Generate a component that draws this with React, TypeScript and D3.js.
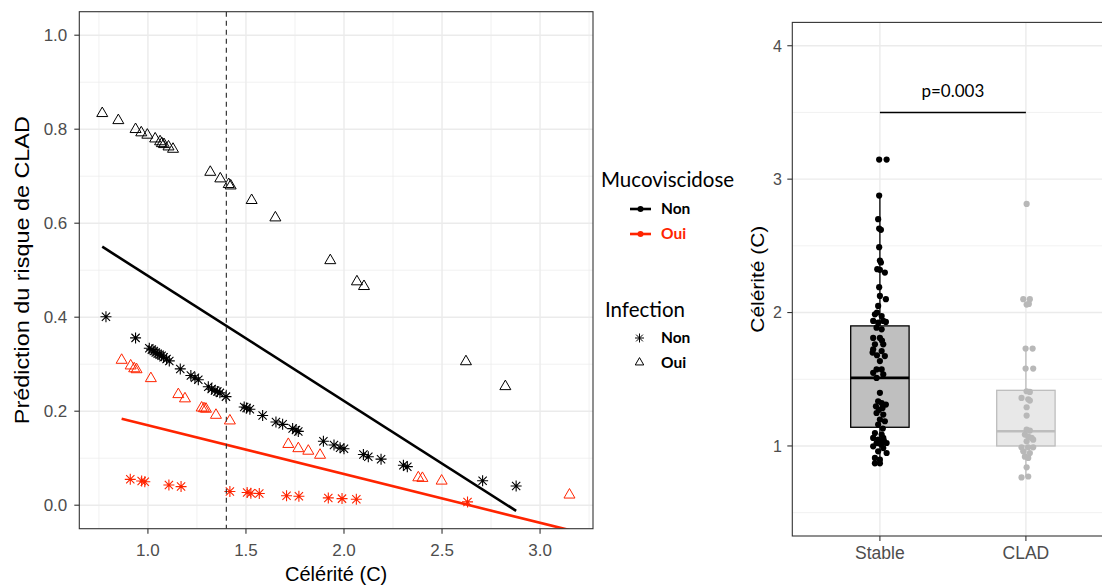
import * as d3 from "d3";

// ---------- left panel : [célérité, prédiction] ----------
const mucoNonInfNon: [number, number][] = [
  [0.786, 0.401], [0.937, 0.356], [1.007, 0.334], [1.02, 0.331], [1.03, 0.328],
  [1.04, 0.325], [1.05, 0.322], [1.06, 0.32], [1.07, 0.318], [1.08, 0.315],
  [1.095, 0.311], [1.109, 0.307], [1.165, 0.29], [1.219, 0.276], [1.24, 0.271],
  [1.257, 0.267], [1.308, 0.252], [1.325, 0.247], [1.342, 0.244], [1.354, 0.242],
  [1.367, 0.239], [1.398, 0.231], [1.491, 0.209], [1.503, 0.207], [1.52, 0.204],
  [1.585, 0.191], [1.653, 0.177], [1.687, 0.172], [1.738, 0.163], [1.755, 0.16],
  [1.767, 0.157], [1.895, 0.136], [1.949, 0.128], [1.98, 0.122], [2.0, 0.12],
  [2.099, 0.108], [2.124, 0.103], [2.189, 0.098], [2.303, 0.085], [2.323, 0.082],
  [2.707, 0.052], [2.878, 0.041],
];
const mucoNonInfOui: [number, number][] = [
  [0.767, 0.835], [0.849, 0.82], [0.937, 0.801], [0.966, 0.794], [0.997, 0.789],
  [1.037, 0.781], [1.062, 0.775], [1.071, 0.771], [1.082, 0.769], [1.105, 0.764],
  [1.128, 0.759], [1.318, 0.71], [1.369, 0.696], [1.412, 0.684], [1.422, 0.681],
  [1.529, 0.65], [1.65, 0.613], [1.93, 0.522], [2.066, 0.477], [2.102, 0.467],
  [2.622, 0.307], [2.823, 0.254],
];
const mucoOuiInfNon: [number, number][] = [
  [0.91, 0.055], [0.968, 0.0516], [0.984, 0.05], [1.107, 0.043], [1.169, 0.0396],
  [1.418, 0.029], [1.506, 0.027], [1.525, 0.0255], [1.568, 0.0248], [1.707, 0.02],
  [1.77, 0.019], [1.92, 0.0155], [1.99, 0.014], [2.063, 0.0127], [2.63, 0.007],
];
const mucoOuiInfOui: [number, number][] = [
  [0.866, 0.31], [0.912, 0.298], [0.93, 0.292], [0.942, 0.29], [1.015, 0.271],
  [1.155, 0.237], [1.189, 0.228], [1.274, 0.2085], [1.286, 0.207], [1.296, 0.206],
  [1.347, 0.193], [1.418, 0.181], [1.716, 0.131], [1.767, 0.122], [1.818, 0.1166],
  [1.878, 0.108], [2.379, 0.06], [2.4, 0.0587], [2.498, 0.053], [3.15, 0.0233],
];
// linear fits (geom_smooth lm) end points
const fitMucoNon: [number, number][] = [[0.767, 0.55], [2.878, -0.012]];
const fitMucoOui: [number, number][] = [[0.866, 0.184], [3.15, -0.053]];
const seuil = 1.4;
const xTicksL = [1.0, 1.5, 2.0, 2.5, 3.0];
const yTicksL = [0, 0.2, 0.4, 0.6, 0.8, 1.0];

// ---------- right panel : [célérité, jitter] ----------
const groups = ["Stable", "CLAD"];
const stablePts: [number, number][] = [
  [3.147, -0.005], [3.147, 0.046], [2.877, -0.005], [2.7, -0.012], [2.63, -0.005],
  [2.62, 0.007], [2.49, -0.005], [2.39, 0], [2.375, 0.007], [2.325, -0.018],
  [2.32, 0], [2.3, 0.034], [2.19, -0.005], [2.125, 0], [2.1, 0.041],
  [2.05, -0.012], [2.0, -0.02], [1.987, -0.034], [1.974, 0.012], [1.937, -0.046],
  [1.924, -0.012], [1.937, 0.023], [1.93, 0.041], [1.887, -0.023], [1.874, 0.012],
  [1.81, -0.046], [1.81, 0], [1.79, 0.014], [1.762, -0.034], [1.762, 0.023],
  [1.724, -0.046], [1.711, 0.012], [1.7, -0.05], [1.674, 0.034], [1.68, -0.02],
  [1.636, 0], [1.574, -0.023], [1.574, 0.012], [1.548, -0.046], [1.536, 0.023],
  [1.51, -0.023], [1.398, 0], [1.335, -0.012], [1.322, 0.012], [1.31, 0.041],
  [1.297, -0.027], [1.285, 0.018], [1.27, -0.007], [1.247, -0.023], [1.235, 0.023],
  [1.198, 0], [1.185, 0.034], [1.16, -0.012], [1.13, 0.02], [1.097, -0.034],
  [1.085, 0.012], [1.06, -0.046], [1.047, -0.012], [1.06, 0.023], [1.04, 0.027],
  [1.022, -0.023], [1.01, 0.012], [1.022, 0.046], [1.02, -0.007], [0.997, -0.046],
  [0.984, 0.023], [0.96, -0.012], [0.947, 0.046], [0.91, -0.034], [0.897, 0],
  [0.87, -0.034], [0.87, 0],
];
const cladPts: [number, number][] = [
  [2.814, 0.005], [2.1, -0.018], [2.1, 0.027], [2.06, 0.005], [2.065, 0.02],
  [1.73, -0.002], [1.73, 0.046], [1.58, -0.002], [1.58, 0.05], [1.41, 0.005],
  [1.405, 0.027], [1.36, -0.03], [1.35, 0.016], [1.34, 0.027], [1.29, 0.005],
  [1.228, 0.005], [1.122, 0.005], [1.115, 0.027], [1.085, -0.007], [1.07, 0.016],
  [1.06, 0.039], [1.035, 0.005], [1.047, 0.05], [0.99, -0.03], [0.99, 0.016],
  [0.99, 0.05], [0.96, -0.018], [0.947, 0.027], [0.92, -0.007], [0.91, 0.016],
  [0.84, 0.005], [0.764, -0.03], [0.771, 0.016],
];
// [lower whisker, Q1, median, Q3, upper whisker]
const stableBox = [0.87, 1.14, 1.51, 1.9, 2.88];
const cladBox = [0.77, 1.0, 1.11, 1.417, 1.74];
const pLabel = "p=0.003";
const bracketY = 3.5;
const yTicksR = [1, 2, 3, 4];

const RED = "#ff2400";
const GRID = "#ebebeb";
const AX = "Liberation Sans, Arial, sans-serif";
const LEG = "Lato, 'Noto Sans', sans-serif";

function asterisk(r: number) {
  const d = r * 0.75;
  return `M${-r},0L${r},0M0,${-r}L0,${r}M${-d},${-d}L${d},${d}M${-d},${d}L${d},${-d}`;
}
function triangle(w: number) {
  const h = w * 0.866;
  return `M0,${-h * 0.6}L${w / 2},${h * 0.4}L${-w / 2},${h * 0.4}Z`;
}

export default function App() {
  // left panel scales
  const L = { x0: 79.3, x1: 593, y0: 11.7, y1: 528.7 };
  const x = d3.scaleLinear().domain([0.65, 3.27]).range([L.x0, L.x1]);
  const y = d3.scaleLinear().domain([-0.05, 1.05]).range([L.y1, L.y0]);
  const xMinor = [xTicksL[0] - 0.25, ...xTicksL.map((t) => t + 0.25)].filter(
    (t) => t > 0.65 && t < 3.27
  );
  const yMinor = yTicksL.slice(0, -1).map((t) => t + 0.1);
  const line = d3.line<[number, number]>().x((d) => x(d[0])).y((d) => y(d[1]));

  // right panel scales
  const R = { x0: 792.3, x1: 1113.5, y0: 22.4, y1: 536 };
  const xr = d3.scalePoint<string>().domain(groups).range([R.x0, R.x1]).padding(0.6);
  const step = xr.step();
  const yr = d3.scaleLinear().domain([0.325, 4.175]).range([R.y1, R.y0]);
  const yrMinor = yTicksR.map((t) => t - 0.5);
  const bw = step * 0.4;

  const box = (g: string, s: number[], fill: string, stroke: string) => {
    const cx = xr(g)!;
    return (
      <g key={g}>
        <line x1={cx} x2={cx} y1={yr(s[0])} y2={yr(s[1])} stroke={stroke} strokeWidth={1.3} />
        <line x1={cx} x2={cx} y1={yr(s[3])} y2={yr(s[4])} stroke={stroke} strokeWidth={1.3} />
        <rect x={cx - bw / 2} width={bw} y={yr(s[3])} height={yr(s[1]) - yr(s[3])}
          fill={fill} stroke={stroke} strokeWidth={1.3} />
        <line x1={cx - bw / 2} x2={cx + bw / 2} y1={yr(s[2])} y2={yr(s[2])} stroke={stroke} strokeWidth={2.6} />
      </g>
    );
  };

  return (
    <svg width={1102} height={585} style={{ position: "absolute", left: 0, top: 0, background: "#fff" }}>
      <defs>
        <clipPath id="clipL">
          <rect x={L.x0} y={L.y0} width={L.x1 - L.x0} height={L.y1 - L.y0} />
        </clipPath>
      </defs>

      {/* ---------------- left panel ---------------- */}
      <g>
        {xMinor.map((t) => (
          <line key={"xm" + t} x1={x(t)} x2={x(t)} y1={L.y0} y2={L.y1} stroke={GRID} strokeWidth={0.7} />
        ))}
        {yMinor.map((t) => (
          <line key={"ym" + t} x1={L.x0} x2={L.x1} y1={y(t)} y2={y(t)} stroke={GRID} strokeWidth={0.7} />
        ))}
        {xTicksL.map((t) => (
          <line key={"xg" + t} x1={x(t)} x2={x(t)} y1={L.y0} y2={L.y1} stroke={GRID} strokeWidth={1.4} />
        ))}
        {yTicksL.map((t) => (
          <line key={"yg" + t} x1={L.x0} x2={L.x1} y1={y(t)} y2={y(t)} stroke={GRID} strokeWidth={1.4} />
        ))}

        <g clipPath="url(#clipL)">
          {mucoNonInfNon.map((d, i) => (
            <path key={"a" + i} d={asterisk(5.5)} transform={`translate(${x(d[0])},${y(d[1])})`}
              fill="none" stroke="#000" strokeWidth={1.1} />
          ))}
          {mucoNonInfOui.map((d, i) => (
            <path key={"b" + i} d={triangle(11)} transform={`translate(${x(d[0])},${y(d[1])})`}
              fill="none" stroke="#000" strokeWidth={1} />
          ))}
          {mucoOuiInfNon.map((d, i) => (
            <path key={"c" + i} d={asterisk(5.5)} transform={`translate(${x(d[0])},${y(d[1])})`}
              fill="none" stroke={RED} strokeWidth={1.1} />
          ))}
          {mucoOuiInfOui.map((d, i) => (
            <path key={"d" + i} d={triangle(11)} transform={`translate(${x(d[0])},${y(d[1])})`}
              fill="none" stroke={RED} strokeWidth={1} />
          ))}
          <path d={line(fitMucoNon)!} stroke="#000" strokeWidth={2.6} fill="none" />
          <path d={line(fitMucoOui)!} stroke={RED} strokeWidth={2.6} fill="none" />
          <line x1={x(seuil)} x2={x(seuil)} y1={L.y0} y2={L.y1} stroke="#333" strokeWidth={1.2}
            strokeDasharray="5,4" />
        </g>
        <rect x={L.x0} y={L.y0} width={L.x1 - L.x0} height={L.y1 - L.y0} fill="none" stroke="#333" strokeWidth={1.1} />

        {xTicksL.map((t) => (
          <g key={"xt" + t}>
            <line x1={x(t)} x2={x(t)} y1={L.y1} y2={L.y1 + 5} stroke="#333" strokeWidth={1.1} />
            <text x={x(t)} y={556} textAnchor="middle" fontFamily={AX} fontSize={17} fill="#4d4d4d">
              {t.toFixed(1)}
            </text>
          </g>
        ))}
        {yTicksL.map((t) => (
          <g key={"yt" + t}>
            <line x1={L.x0 - 5} x2={L.x0} y1={y(t)} y2={y(t)} stroke="#333" strokeWidth={1.1} />
            <text x={L.x0 - 12} y={y(t)} dy="0.36em" textAnchor="end" fontFamily={AX} fontSize={17} fill="#4d4d4d">
              {t.toFixed(1)}
            </text>
          </g>
        ))}
        <text x={(L.x0 + L.x1) / 2} y={581} textAnchor="middle" fontFamily={AX} fontSize={20} fill="#000">
          Célérité (C)
        </text>
        <text transform={`translate(29,${(L.y0 + L.y1) / 2}) rotate(-90)`} textAnchor="middle"
          fontFamily={AX} fontSize={20} fill="#000" textLength={308} lengthAdjust="spacingAndGlyphs">
          Prédiction du risque de CLAD
        </text>
      </g>

      {/* ---------------- legend ---------------- */}
      <g fontFamily={LEG}>
        <text x={601} y={187} fontSize={20.5} fill="#000">Mucoviscidose</text>
        <line x1={630} x2={651} y1={209} y2={209} stroke="#000" strokeWidth={2.6} />
        <circle cx={640.5} cy={209} r={3} fill="#000" />
        <text x={661} y={214} fontSize={15.5} fontWeight="bold" fill="#000">Non</text>
        <line x1={630} x2={651} y1={234} y2={234} stroke={RED} strokeWidth={2.6} />
        <circle cx={640.5} cy={234} r={3} fill={RED} />
        <text x={661} y={239} fontSize={15.5} fontWeight="bold" fill={RED}>Oui</text>

        <text x={605} y={317} fontSize={20.5} fill="#000">Infection</text>
        <path d={asterisk(4.5)} transform="translate(639.5,338)" fill="none" stroke="#000" strokeWidth={1} />
        <text x={661} y={343} fontSize={15.5} fontWeight="bold" fill="#000">Non</text>
        <path d={triangle(8.5)} transform="translate(639.5,362)" fill="none" stroke="#000" strokeWidth={1} />
        <text x={661} y={368} fontSize={15.5} fontWeight="bold" fill="#000">Oui</text>
      </g>

      {/* ---------------- right panel ---------------- */}
      <g>
        {yrMinor.map((t) => (
          <line key={"rm" + t} x1={R.x0} x2={R.x1} y1={yr(t)} y2={yr(t)} stroke={GRID} strokeWidth={0.7} />
        ))}
        {yTicksR.map((t) => (
          <line key={"rg" + t} x1={R.x0} x2={R.x1} y1={yr(t)} y2={yr(t)} stroke={GRID} strokeWidth={1.4} />
        ))}
        {groups.map((g) => (
          <line key={"rx" + g} x1={xr(g)} x2={xr(g)} y1={R.y0} y2={R.y1} stroke={GRID} strokeWidth={1.4} />
        ))}

        {box("Stable", stableBox, "#bfbfbf", "#000")}
        {box("CLAD", cladBox, "#e8e8e8", "#bdbdbd")}

        {stablePts.map((d, i) => (
          <circle key={"s" + i} cx={xr("Stable")! + d[1] * step} cy={yr(d[0])} r={3.1} fill="#000" />
        ))}
        {cladPts.map((d, i) => (
          <circle key={"k" + i} cx={xr("CLAD")! + d[1] * step} cy={yr(d[0])} r={3.1} fill="#b8b8b8" />
        ))}

        <line x1={xr("Stable")} x2={xr("CLAD")} y1={yr(bracketY)} y2={yr(bracketY)} stroke="#000" strokeWidth={1.4} />
        <text x={(xr("Stable")! + xr("CLAD")!) / 2} y={97} textAnchor="middle" fontFamily={LEG}
          fontSize={17} fill="#000">
          {pLabel}
        </text>

        <rect x={R.x0} y={R.y0} width={R.x1 - R.x0} height={R.y1 - R.y0} fill="none" stroke="#333" strokeWidth={1.1} />

        {yTicksR.map((t) => (
          <g key={"ryt" + t}>
            <line x1={R.x0 - 5} x2={R.x0} y1={yr(t)} y2={yr(t)} stroke="#333" strokeWidth={1.1} />
            <text x={782} y={yr(t)} dy="0.36em" textAnchor="end" fontFamily={AX} fontSize={16} fill="#4d4d4d">
              {t}
            </text>
          </g>
        ))}
        {groups.map((g) => (
          <g key={"rxt" + g}>
            <line x1={xr(g)} x2={xr(g)} y1={R.y1} y2={R.y1 + 5} stroke="#333" strokeWidth={1.1} />
            <text x={xr(g)} y={559} textAnchor="middle" fontFamily={AX} fontSize={17.5} fill="#4d4d4d">
              {g}
            </text>
          </g>
        ))}
        <text transform={`translate(764,${(R.y0 + R.y1) / 2}) rotate(-90)`} textAnchor="middle"
          fontFamily={AX} fontSize={18} fill="#000" textLength={107} lengthAdjust="spacingAndGlyphs">
          Célérité (C)
        </text>
      </g>
    </svg>
  );
}
